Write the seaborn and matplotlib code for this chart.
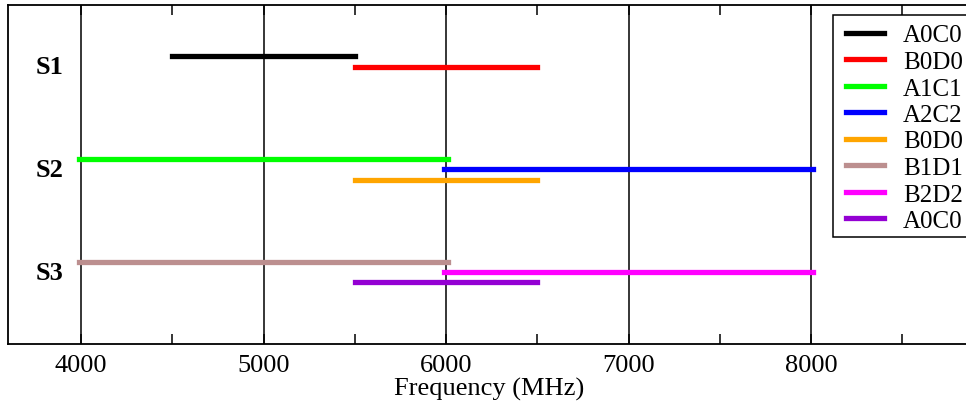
import matplotlib
matplotlib.use("Agg")
import matplotlib.pyplot as plt
import seaborn as sns
import pandas as pd
from matplotlib.ticker import MultipleLocator
from matplotlib.patches import Rectangle

# ---- data ----
series_names = ["A0C0", "B0D0", "A1C1", "A2C2", "B0D0", "B1D1", "B2D2", "A0C0"]
groups = ["S1", "S1", "S2", "S2", "S2", "S3", "S3", "S3"]
lane_offsets = [-0.1, 0.0, -0.1, 0.0, 0.1, -0.1, 0.0, 0.1]
starts = [4500, 5500, 3990, 5990, 5500, 3990, 5990, 5500]
ends = [5500, 6500, 6010, 8010, 6500, 6010, 8010, 6500]
colors = ["#000000", "#ff0000", "#00ff00", "#0000ff", "#ffa500",
          "#bc8f8f", "#ff00ff", "#9400d3"]
group_labels = ["S1", "S2", "S3"]
group_pos = [1, 2, 3]
x_ticks = [4000, 5000, 6000, 7000, 8000]

sns.set_style("white")
plt.rcParams["font.family"] = ["Liberation Serif", "DejaVu Serif"]
plt.rcParams["font.size"] = 19
plt.rcParams["text.color"] = "black"
plt.rcParams["axes.labelcolor"] = "black"
plt.rcParams["xtick.color"] = "black"
plt.rcParams["ytick.color"] = "black"

W, H = 966, 406
fig = plt.figure(figsize=(W / 100, H / 100), dpi=100)
ax = fig.add_axes([8 / W, 1 - 345 / H, (970 - 8) / W, (345 - 6) / H])

gmap = dict(zip(group_labels, group_pos))
for i, name in enumerate(series_names):
    yv = gmap[groups[i]] + lane_offsets[i]
    df = pd.DataFrame({"x": [starts[i], ends[i]], "y": [yv, yv]})
    sns.lineplot(data=df, x="x", y="y", ax=ax, color=colors[i], lw=3.8,
                 label=name, solid_capstyle="projecting", sort=False,
                 estimator=None)

for lab, p in zip(group_labels, group_pos):
    ax.text(3830, p, lab, ha="center", va="center", fontweight="bold",
            fontsize=19, color="black")

ax.set_xlim(3600, 3600 + (970 - 8) / 182.5 * 1000)
ax.set_ylim(3.7, 0.4)
ax.set_xticks(x_ticks)
ax.set_xticklabels([str(t) for t in x_ticks])
ax.xaxis.set_minor_locator(MultipleLocator(500))
ax.set_yticks([])
ax.set_ylabel("")
ax.set_xlabel("Frequency (MHz)", fontsize=19, labelpad=1, color="black")
ax.tick_params(axis="x", which="both", direction="in", top=True, bottom=True,
               color="black", width=1.1, labelcolor="black")
ax.tick_params(axis="x", which="major", length=7, pad=7, labelsize=19)
ax.tick_params(axis="x", which="minor", length=7)
ax.grid(axis="x", which="major", color="black", lw=1.1)
ax.grid(axis="y", visible=False)
for s in ax.spines.values():
    s.set_color("black")
    s.set_linewidth(1.3)
    s.set_visible(True)
ax.spines["right"].set_visible(False)

# legend frame (extends past the right edge, as in the reference)
frame = Rectangle((832.7 / W, 1 - 238.3 / H), (1010 - 832.7) / W,
                  (238.3 - 16) / H, transform=fig.transFigure, clip_on=False,
                  facecolor="white", edgecolor="black", lw=1.1, zorder=4)
ax.add_patch(frame)

leg = ax.legend(loc="upper left",
                bbox_to_anchor=(845.7 / W, 1 - 25 / H),
                bbox_transform=fig.transFigure, fontsize=18, frameon=False,
                handlelength=1.55, handletextpad=0.75, labelspacing=0.16,
                borderpad=0, borderaxespad=0)
leg.set_zorder(6)
for h in leg.get_lines():
    h.set_linewidth(3.8)
for t in leg.get_texts():
    t.set_color("black")

fig.savefig("out.png", dpi=100)
